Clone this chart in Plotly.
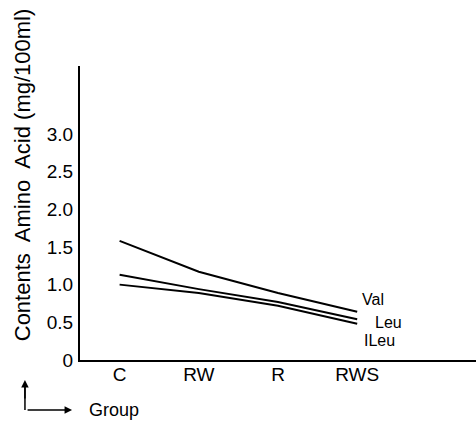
import plotly.graph_objects as go

groups = ["C", "RW", "R", "RWS"]
val = [1.58, 1.17, 0.89, 0.64]
leu = [1.13, 0.94, 0.77, 0.54]
ileu = [1.00, 0.89, 0.72, 0.48]
series_names = ["Val", "Leu", "ILeu"]
y_ticks = [0, 0.5, 1.0, 1.5, 2.0, 2.5, 3.0]
y_ticktext = ["0", "0.5", "1.0", "1.5", "2.0", "2.5", "3.0"]

FONT = "Liberation Sans, Arial, sans-serif"

fig = go.Figure()
for name, vals in zip(series_names, [val, leu, ileu]):
    fig.add_trace(go.Scatter(x=list(range(len(groups))), y=vals, mode="lines",
                             line=dict(color="black", width=2), name=name,
                             showlegend=False, hoverinfo="skip"))

# series end labels
label_offsets = {"Val": (3, 12), "Leu": (16, -3), "ILeu": (5, -17)}
for name, vals in zip(series_names, [val, leu, ileu]):
    dx, dy = label_offsets[name]
    fig.add_annotation(x=len(groups) - 1, y=vals[-1], text=name, showarrow=False,
                       xanchor="left", yanchor="middle", xshift=dx, yshift=dy,
                       font=dict(family=FONT, size=16, color="black"))

fig.update_xaxes(range=[-0.5, 4.5], tickvals=list(range(len(groups))), ticktext=groups,
                 showline=True, linecolor="black", linewidth=2, showgrid=False,
                 zeroline=False, ticks="", ticklabelstandoff=-4,
                 tickfont=dict(family=FONT, size=19, color="black"))
fig.update_yaxes(range=[0, 3.9], tickvals=y_ticks, ticktext=y_ticktext,
                 showline=True, linecolor="black", linewidth=2, showgrid=False,
                 zeroline=False, ticks="", ticklabelstandoff=1,
                 tickfont=dict(family=FONT, size=19, color="black"))

# y title (rotated)
fig.add_annotation(xref="paper", yref="paper", x=-0.146, y=0.629,
                   xanchor="center", yanchor="middle",
                   text="Contents  Amino  Acid (mg/100ml)", textangle=-90, showarrow=False,
                   font=dict(family=FONT, size=22, color="black"))
# group label and corner arrow
fig.add_annotation(xref="paper", yref="paper", x=0.018, y=-0.170, xanchor="left",
                   yanchor="middle", text="Group", showarrow=False,
                   font=dict(family=FONT, size=18, color="black"))
fig.add_shape(type="line", xref="paper", yref="paper", x0=-0.139, y0=-0.170,
              x1=-0.139, y1=-0.09, line=dict(color="black", width=1.5))
fig.add_annotation(xref="paper", yref="paper", x=-0.139, y=-0.068, ax=0, ay=20,
                   text="", showarrow=True,
                   arrowhead=2, arrowsize=1, arrowwidth=1.5, arrowcolor="black")
fig.add_annotation(xref="paper", yref="paper", x=-0.020, y=-0.170, ax=-46, ay=0,
                   text="", showarrow=True,
                   arrowhead=2, arrowsize=1, arrowwidth=1.5, arrowcolor="black")

fig.update_layout(width=476, height=424, margin=dict(l=80, r=0, t=66, b=64),
                  plot_bgcolor="white", paper_bgcolor="white")
fig.write_html("out.html", config={"displayModeBar": False},
               post_script="document.body.style.margin='0';document.body.style.overflow='hidden';")
